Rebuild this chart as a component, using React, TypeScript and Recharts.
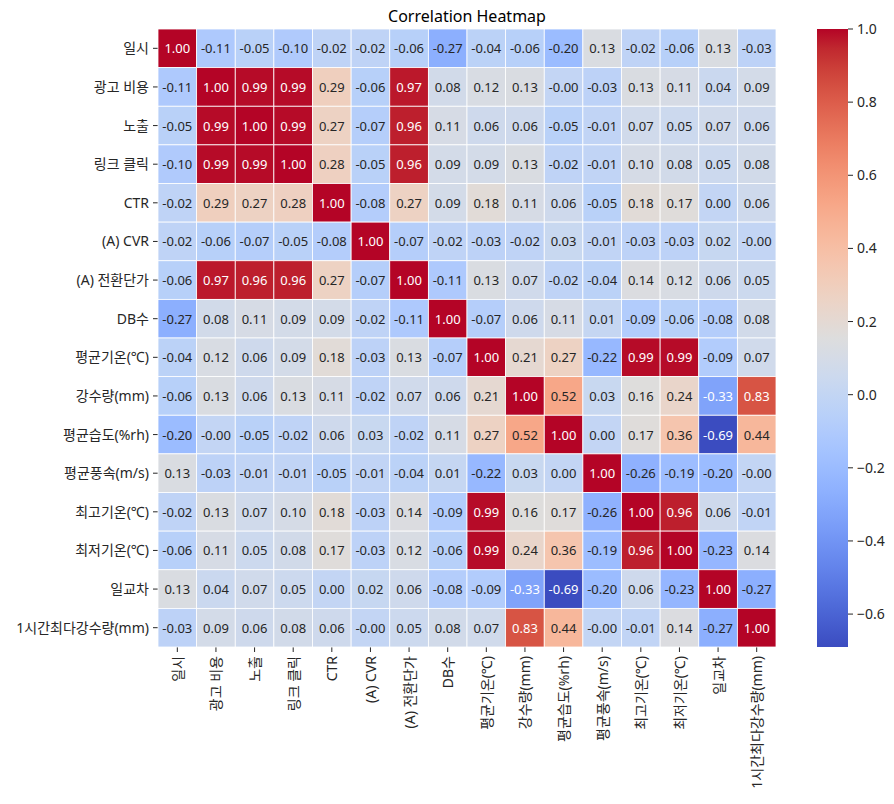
import React from "react";
import { ScatterChart, Scatter, XAxis, YAxis, BarChart, Bar } from "recharts";

const labels = [
  "일시",
  "광고 비용",
  "노출",
  "링크 클릭",
  "CTR",
  "(A) CVR",
  "(A) 전환단가",
  "DB수",
  "평균기온(℃)",
  "강수량(mm)",
  "평균습도(%rh)",
  "평균풍속(m/s)",
  "최고기온(℃)",
  "최저기온(℃)",
  "일교차",
  "1시간최다강수량(mm)",
];

// correlation matrix, row by row (same order as labels); -0.0 prints as "-0.00"
const corr = [
  [1.0, -0.11, -0.05, -0.1, -0.02, -0.02, -0.06, -0.27, -0.04, -0.06, -0.2, 0.13, -0.02, -0.06, 0.13, -0.03],
  [-0.11, 1.0, 0.99, 0.99, 0.29, -0.06, 0.97, 0.08, 0.12, 0.13, -0.0, -0.03, 0.13, 0.11, 0.04, 0.09],
  [-0.05, 0.99, 1.0, 0.99, 0.27, -0.07, 0.96, 0.11, 0.06, 0.06, -0.05, -0.01, 0.07, 0.05, 0.07, 0.06],
  [-0.1, 0.99, 0.99, 1.0, 0.28, -0.05, 0.96, 0.09, 0.09, 0.13, -0.02, -0.01, 0.1, 0.08, 0.05, 0.08],
  [-0.02, 0.29, 0.27, 0.28, 1.0, -0.08, 0.27, 0.09, 0.18, 0.11, 0.06, -0.05, 0.18, 0.17, 0.0, 0.06],
  [-0.02, -0.06, -0.07, -0.05, -0.08, 1.0, -0.07, -0.02, -0.03, -0.02, 0.03, -0.01, -0.03, -0.03, 0.02, -0.0],
  [-0.06, 0.97, 0.96, 0.96, 0.27, -0.07, 1.0, -0.11, 0.13, 0.07, -0.02, -0.04, 0.14, 0.12, 0.06, 0.05],
  [-0.27, 0.08, 0.11, 0.09, 0.09, -0.02, -0.11, 1.0, -0.07, 0.06, 0.11, 0.01, -0.09, -0.06, -0.08, 0.08],
  [-0.04, 0.12, 0.06, 0.09, 0.18, -0.03, 0.13, -0.07, 1.0, 0.21, 0.27, -0.22, 0.99, 0.99, -0.09, 0.07],
  [-0.06, 0.13, 0.06, 0.13, 0.11, -0.02, 0.07, 0.06, 0.21, 1.0, 0.52, 0.03, 0.16, 0.24, -0.33, 0.83],
  [-0.2, -0.0, -0.05, -0.02, 0.06, 0.03, -0.02, 0.11, 0.27, 0.52, 1.0, 0.0, 0.17, 0.36, -0.69, 0.44],
  [0.13, -0.03, -0.01, -0.01, -0.05, -0.01, -0.04, 0.01, -0.22, 0.03, 0.0, 1.0, -0.26, -0.19, -0.2, -0.0],
  [-0.02, 0.13, 0.07, 0.1, 0.18, -0.03, 0.14, -0.09, 0.99, 0.16, 0.17, -0.26, 1.0, 0.96, 0.06, -0.01],
  [-0.06, 0.11, 0.05, 0.08, 0.17, -0.03, 0.12, -0.06, 0.99, 0.24, 0.36, -0.19, 0.96, 1.0, -0.23, 0.14],
  [0.13, 0.04, 0.07, 0.05, 0.0, 0.02, 0.06, -0.08, -0.09, -0.33, -0.69, -0.2, 0.06, -0.23, 1.0, -0.27],
  [-0.03, 0.09, 0.06, 0.08, 0.06, -0.0, 0.05, 0.08, 0.07, 0.83, 0.44, -0.0, -0.01, 0.14, -0.27, 1.0],
];

const colorbarTicks = [-0.6, -0.4, -0.2, 0.0, 0.2, 0.4, 0.6, 0.8, 1.0];

// coolwarm (Moreland) control points, low -> high
const coolwarm = [
  [59, 76, 192], [68, 90, 204], [77, 104, 215], [87, 117, 225], [98, 130, 234],
  [108, 142, 241], [119, 154, 247], [130, 165, 251], [141, 176, 254], [152, 185, 255],
  [163, 194, 255], [174, 201, 253], [184, 208, 249], [194, 213, 244], [204, 217, 238],
  [213, 219, 230], [221, 221, 221], [229, 216, 209], [236, 211, 197], [241, 204, 185],
  [245, 196, 173], [247, 187, 160], [247, 177, 148], [247, 166, 135], [244, 154, 123],
  [241, 141, 111], [236, 127, 99], [229, 112, 88], [222, 96, 77], [213, 80, 66],
  [203, 62, 56], [192, 40, 47], [180, 4, 38],
];

const VMAX = 1;
const VMIN = Math.min(...corr.flat());

const FONT = '"Noto Sans", "Noto Sans CJK KR", sans-serif';
const INK = "#262626";

const W = 894;
const H = 804;
const PLOT_LEFT = 158;
const PLOT_TOP = 29;
const PLOT_W = 618;
const PLOT_H = 618;
const N = labels.length;
const CELL_W = PLOT_W / N;
const CELL_H = PLOT_H / N;
const X_AXIS_H = 150;
const TICK_FONT = 14;

function coolwarmRgb(t: number) {
  const c = Math.max(0, Math.min(1, t)) * (coolwarm.length - 1);
  const i = Math.min(Math.floor(c), coolwarm.length - 2);
  const f = c - i;
  const a = coolwarm[i];
  const b = coolwarm[i + 1];
  return [0, 1, 2].map((k) => a[k] + (b[k] - a[k]) * f);
}

const toCss = (rgb: number[]) => `rgb(${rgb.map((v) => Math.round(v)).join(",")})`;

function textColorFor(rgb: number[]) {
  const lin = rgb.map((v) => {
    const s = v / 255;
    return s <= 0.03928 ? s / 12.92 : Math.pow((s + 0.055) / 1.055, 2.4);
  });
  const lum = 0.2126 * lin[0] + 0.7152 * lin[1] + 0.0722 * lin[2];
  return lum > 0.408 ? INK : "#ffffff";
}

const fmt = (v: number) => (Object.is(v, -0) ? "-0.00" : v.toFixed(2));

const cells = corr.flatMap((row, i) => row.map((v, j) => ({ col: j, row: i, value: v })));

const HeatCell = (props: any) => {
  const { cx, cy, payload } = props;
  if (cx == null || cy == null) return null;
  const rgb = coolwarmRgb((payload.value - VMIN) / (VMAX - VMIN));
  return (
    <g>
      <rect
        x={cx - CELL_W / 2}
        y={cy - CELL_H / 2}
        width={CELL_W}
        height={CELL_H}
        fill={toCss(rgb)}
        stroke="#ffffff"
        strokeWidth={0.8}
      />
      <text
        x={cx}
        y={cy}
        textAnchor="middle"
        dominantBaseline="central"
        fontSize={13}
        fontFamily={FONT}
        fill={textColorFor(rgb)}
      >
        {fmt(payload.value)}
      </text>
    </g>
  );
};

const XTick = (props: any) => {
  const { x, y, payload } = props;
  return (
    <g transform={`translate(${x},${y})`}>
      <text
        transform="rotate(-90)"
        textAnchor="end"
        dominantBaseline="central"
        fontSize={TICK_FONT}
        fontFamily={FONT}
        fill={INK}
      >
        {labels[payload.value]}
      </text>
    </g>
  );
};

const colorbarData = [{ name: "scale", span: [VMIN, VMAX] }];

export default function App() {
  const idx = labels.map((_, i) => i);
  return (
    <div
      style={{
        position: "absolute",
        left: 0,
        top: 0,
        width: W,
        height: H,
        background: "#ffffff",
        fontFamily: FONT,
      }}
    >
      <div
        style={{
          position: "absolute",
          left: PLOT_LEFT,
          width: PLOT_W,
          top: 4,
          textAlign: "center",
          fontSize: 16,
          color: "#000000",
          lineHeight: "24px",
        }}
      >
        Correlation Heatmap
      </div>

      <div style={{ position: "absolute", left: 0, top: 0 }}>
        <ScatterChart
          width={W}
          height={H}
          margin={{ top: PLOT_TOP, right: W - PLOT_LEFT - PLOT_W, bottom: H - PLOT_TOP - PLOT_H - X_AXIS_H, left: 0 }}
        >
          <XAxis
            type="number"
            dataKey="col"
            domain={[-0.5, N - 0.5]}
            ticks={idx}
            interval={0}
            height={X_AXIS_H}
            axisLine={false}
            tickLine={{ stroke: INK }}
            tickSize={5}
            tickMargin={4}
            tick={<XTick />}
          />
          <YAxis
            type="number"
            dataKey="row"
            domain={[-0.5, N - 0.5]}
            reversed
            ticks={idx}
            interval={0}
            width={PLOT_LEFT}
            axisLine={false}
            tickLine={{ stroke: INK }}
            tickSize={5}
            tickMargin={4}
            tickFormatter={(i: number) => labels[i]}
            tick={{ fill: INK, fontSize: TICK_FONT, fontFamily: FONT }}
          />
          <Scatter data={cells} shape={HeatCell} isAnimationActive={false} />
        </ScatterChart>
      </div>

      <div style={{ position: "absolute", left: 800, top: 0 }}>
        <BarChart
          width={94}
          height={H}
          data={colorbarData}
          margin={{ top: PLOT_TOP, right: 0, bottom: H - PLOT_TOP - PLOT_H, left: 17 }}
          barCategoryGap={0}
        >
          <defs>
            <linearGradient id="coolwarmBar" x1="0" y1="0" x2="0" y2="1">
              {coolwarm.map((_, k) => {
                const rgb = coolwarm[coolwarm.length - 1 - k];
                return (
                  <stop key={k} offset={k / (coolwarm.length - 1)} stopColor={toCss(rgb)} />
                );
              })}
            </linearGradient>
          </defs>
          <XAxis dataKey="name" hide />
          <YAxis
            orientation="right"
            type="number"
            domain={[VMIN, VMAX]}
            ticks={colorbarTicks}
            interval={0}
            width={46}
            axisLine={false}
            tickLine={{ stroke: INK }}
            tickSize={5}
            tickMargin={4}
            tickFormatter={(v: number) => (v < 0 ? `−${Math.abs(v).toFixed(1)}` : v.toFixed(1))}
            tick={{ fill: INK, fontSize: TICK_FONT, fontFamily: FONT }}
          />
          <Bar dataKey="span" fill="url(#coolwarmBar)" isAnimationActive={false} />
        </BarChart>
      </div>
    </div>
  );
}
